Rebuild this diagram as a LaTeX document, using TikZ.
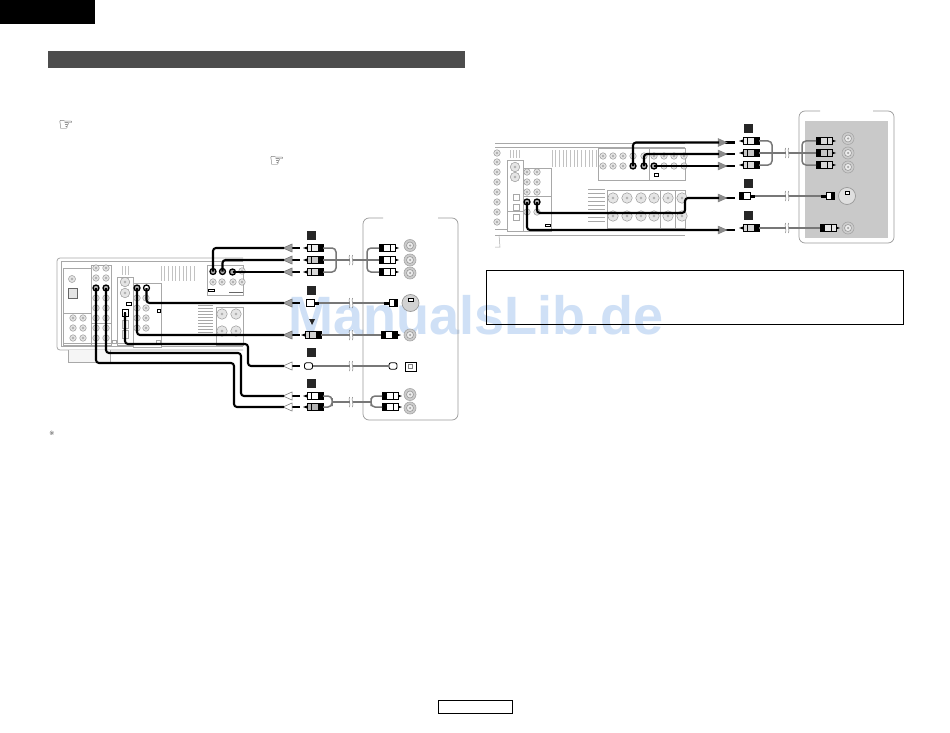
\documentclass[tikz,border=0pt]{standalone}
\usepackage{fontspec}
\setmainfont{Liberation Sans}
\newfontfamily\symfont{DejaVu Sans}
\definecolor{wm}{HTML}{CFE0F6}
\definecolor{hdr}{HTML}{4D4D4D}
\definecolor{cablegrey}{HTML}{777777}
\definecolor{devline}{HTML}{A8A8A8}
\definecolor{panelfill}{HTML}{C9C9C9}
\tikzset{
  devbox/.style={draw=devline,line width=.5pt,fill=white},
  devedge/.style={draw=devline,line width=.8pt},
  vent/.style={draw=devline!70,line width=1pt},
  ljackstyle/.style={circle,draw=gray!80,fill=gray!20,line width=.5pt,inner sep=0pt},
  ljackin/.style={circle,draw=gray!70,fill=white,line width=.4pt,inner sep=0pt,minimum size=2pt},
  bjack/.style={circle,draw=black,fill=gray!65,line width=1.3pt,inner sep=0pt,minimum size=6pt},
  cable/.style={draw=black,line width=2.1pt,rounded corners=3pt},
  gcable/.style={draw=cablegrey,line width=1.5pt,rounded corners=4pt},
  tag/.style={fill=black!85,inner sep=0pt,minimum size=9pt},
  hand/.style={font=\symfont\fontsize{17}{17}\selectfont,text=black!85,inner sep=0pt},
  frame/.style={draw=gray!80,line width=.7pt,rounded corners=6pt},
  small/.style={draw=black,fill=white,line width=.7pt},
}
% light jack
\newcommand\ljack[3]{%
  \node[ljackstyle,minimum size=#3pt] at (#1,#2) {};
  \node[ljackin] at (#1,#2) {};}
% grey RCA socket with name
\newcommand\sock[3]{%
  \node[circle,draw=gray!70,fill=gray!40,line width=.6pt,inner sep=0pt,minimum size=12pt] (#1) at (#2,#3) {};
  \node[circle,draw=gray!80,fill=gray!15,line width=.6pt,inner sep=0pt,minimum size=7pt] at (#2,#3) {};
  \node[circle,fill=gray!70,inner sep=0pt,minimum size=2.5pt] at (#2,#3) {};}
% RCA plug: name,x,y,dir(1 = tip to left),fill
\newcommand\plug[5]{%
  \begin{scope}[shift={(#2,#3)},xscale=#4]
    \fill[black] (-12,0) -- (-8,-1.5) -- (-8,1.5) -- cycle;
    \draw[black,line width=.8pt,fill=#5] (-8,-3.2) rectangle (8,3.2);
    \fill[black] (3,-3.2) rectangle (8,3.2);
    \fill[black] (-4,-3.2) rectangle (-3,3.2);
    \coordinate (#1) at (8,0);
  \end{scope}}
% S-video plug
\newcommand\splug[5]{%
  \begin{scope}[shift={(#2,#3)},xscale=#4]
    \fill[black] (-9,-1.5) rectangle (-4,1.5);
    \draw[black,line width=.8pt,fill=#5] (-4,-3.6) rectangle (4,3.6);
    \coordinate (#1) at (-9,0);
  \end{scope}}
% optical plug
\newcommand\oplug[3]{%
  \draw[black,line width=.8pt,fill=white,rounded corners=2pt] (#2-4,#3-3.2) rectangle (#2+4,#3+3.2);
  \node[inner sep=0pt,minimum size=8pt] (#1) at (#2,#3) {};}
% arrow pointing left towards the device: name, y, fill
\newcommand\arrL[3]{%
  \draw[black,line width=2.1pt] (292,#2) -- (300,#2);
  \draw[black!60,line width=.5pt,fill=#3] (283,#2) -- (292,#2-4) -- (292,#2+4) -- cycle;
  \coordinate (#1) at (284,#2);}
% arrow pointing right towards the device: name, y
\newcommand\arrR[2]{%
  \draw[black,line width=2.1pt] (725,#2) -- (735,#2);
  \draw[gray,line width=.4pt,fill=gray!90] (727,#2) -- (718,#2-4) -- (718,#2+4) -- cycle;
  \coordinate (#1) at (719,#2);}
% cable break mark
\newcommand\cutmark[2]{%
  \fill[white] (#1-1.5,#2-4) rectangle (#1+1.5,#2+4);
  \draw[cablegrey,line width=.5pt] (#1-1.5,#2-5) .. controls (#1-3,#2-2) and (#1,#2+2) .. (#1-1.5,#2+5);
  \draw[cablegrey,line width=.5pt] (#1+1.5,#2-5) .. controls (#1,#2-2) and (#1+3,#2+2) .. (#1+1.5,#2+5);}
\begin{document}
\begin{tikzpicture}[x=1pt,y=-1pt]
\useasboundingbox (0,0) rectangle (950,733);
\fill[white] (0,0) rectangle (950,733);
% watermark
\node[font=\bfseries\fontsize{54}{54}\selectfont,text=wm,inner sep=0pt] (wmark) at (476,315) {ManualsLib.de};
% page furniture
\fill[black] (0,0) rectangle (95,24);
\fill[hdr] (48,51) rectangle (465,68);
\node[hand] (h1) at (66,126) {☞};
\node[hand] (h2) at (277,162) {☞};
\node[font=\symfont\fontsize{6}{6}\selectfont,text=black!70,inner sep=0pt] (note) at (52,433) {※};
\draw[black,line width=.8pt] (486,270) rectangle (903.5,324);
\draw[black,line width=.8pt] (438,700.5) rectangle (512.5,713);

%%%%%%%% LEFT DIAGRAM: DEVICE
\draw[devedge,rounded corners=3pt] (243,258) -- (57,258) -- (57,350) -- (243,350);
\draw[devline,line width=.4pt] (243,261) -- (61,261) -- (61,346) -- (243,346);
\draw[devline,line width=.7pt,fill=gray!8] (68,350) -- (68,362) -- (110,362) -- (110,350);
\draw[devbox] (63,268) rectangle (92,345);
\draw[devline,line width=.4pt] (63,313) -- (92,313);
\draw[devbox] (91,265) rectangle (111,345);
\draw[devbox] (117,277) rectangle (133,345);
\draw[devbox] (133,283) rectangle (161,347);
\draw[devbox] (207,265) rectangle (243,295);
\draw[devbox] (216,307) rectangle (243,345);
\draw[devline,line width=.4pt] (91,323) -- (111,323) (63,343) -- (161,343);
\foreach \x in {161,164.7,...,197} {\draw[vent] (\x,266) -- (\x,281);}
\foreach \x in {122,125,128} {\draw[vent] (\x,266) -- (\x,275);}
\foreach \y in {305,308,...,335} {\draw[devline,line width=.5pt] (198,\y) -- (213,\y);}
\ljack{72}{279}{7}
\draw[black!60,line width=.8pt,fill=gray!20] (68,288) rectangle (77,298);
\foreach \x in {73,83} \foreach \y in {318,328,338} {\ljack{\x}{\y}{6.5}}
\foreach \x in {96,106} \foreach \y in {268,278,298,308,318,328,338} {\ljack{\x}{\y}{6.5}}
\ljack{125}{282}{9.5}\ljack{125}{293}{9.5}
\draw[devline,line width=.5pt] (122,320) rectangle (128,328) (122,330) rectangle (128,338);
\foreach \x in {137,146} \foreach \y in {298,308,318,328} {\ljack{\x}{\y}{6.5}}
\foreach \x in {213,222,233} {\ljack{\x}{282}{6.5}}
\ljack{242}{271}{6.5}\ljack{242}{282}{6.5}
\foreach \x in {222,236} \foreach \y in {314,331} {\ljack{\x}{\y}{10.5}}
\draw[small] (126.5,302.5) rectangle (131,305.5);
\draw[small] (157.5,309) rectangle (160,312);
\draw[small] (208.5,289.5) rectangle (214,291.5);
\draw[devline,line width=.5pt] (112,340) rectangle (116,343) (156,340) rectangle (160,343);
\draw[black!60,line width=1pt] (229,292) -- (243,292);
% device jacks in use
\node[bjack] (Ra) at (213,271.5) {};
\node[bjack] (Rb) at (222.5,271.5) {};
\node[bjack] (Rc) at (232.5,272) {};
\node[bjack,fill=white] (Rd) at (146.5,288) {};
\node[bjack] (Re) at (137,288) {};
\draw[black,line width=1pt,fill=white] (122,309) rectangle (128,316);
\node[inner sep=0pt,minimum size=2pt,fill=black] (Rf) at (125,313) {};
\node[bjack] (Rg) at (106,288) {};
\node[bjack] (Rh) at (96,288) {};

%%%%%%%% LEFT DIAGRAM: SOURCE FRAME
\draw[frame] (383,218) -- (363,218) -- (363,420) -- (458,420) -- (458,218) -- (438,218);
\node[tag] (t1) at (311.5,235.5) {};
\node[tag] (t2) at (311.5,290.5) {};
\node[tag] (t3) at (311.5,352.5) {};
\node[tag] (t4) at (311.5,383.5) {};
\fill[black!85] (309,319) -- (315,319) -- (312,325) -- cycle;

\arrL{Aa}{248}{gray!75}
\arrL{Ab}{260}{gray!75}
\arrL{Ac}{272}{gray!75}
\arrL{Ad}{303}{gray!75}
\arrL{Ae}{335}{gray!75}
\arrL{Af}{366}{white}
\arrL{Ag}{396}{white}
\arrL{Ah}{407}{white}

% black cables
\draw[cable] (Ra.center) |- (Aa);
\draw[cable] (Rb.center) |- (Ab);
\draw[cable] (Rc.center) -- (Ac);
\draw[cable] (Rd.center) |- (Ad);
\draw[cable] (Re.center) |- (Ae);
\coordinate (Ff) at (248,344);
\draw[cable] (Rf.center) |- (Ff) |- (Af);
\coordinate (Fg) at (241,353);
\draw[cable] (Rg.center) |- (Fg) |- (Ag);
\coordinate (Fh) at (234,363);
\draw[cable] (Rh.center) |- (Fh) |- (Ah);

% grey cables
\plug{Pa}{315}{248}{1}{gray!15}
\plug{Pb}{315}{260}{1}{gray!45}
\plug{Pc}{315}{272}{1}{gray!30}
\plug{Qa}{387}{248}{-1}{white}
\plug{Qb}{387}{260}{-1}{white}
\plug{Qc}{387}{272}{-1}{white}
\coordinate (Ba) at (336,260);
\coordinate (Bb) at (367,260);
\draw[gcable] (Pa) -| (Ba) |- (Pc);
\draw[gcable] (Pb) -- (Qb);
\draw[gcable] (Qa) -| (Bb) |- (Qc);
\cutmark{351}{260}
\sock{Sa}{410}{245.5}\sock{Sb}{410}{260}\sock{Sc}{410}{273}

% S-video
\splug{Pd}{310}{303}{-1}{white}
\splug{Qd}{393}{303}{1}{white}
\fill[black] (394,299.4) rectangle (398,306.6);
\draw[gcable] (Pd) -- (Qd);
\cutmark{351}{303}
\node[circle,draw=gray!80,fill=gray!35,line width=.7pt,inner sep=0pt,minimum size=17pt] (Sd) at (410.5,303) {};
\draw[black,fill=white,line width=.5pt] (408.5,298) rectangle (413,301);
% composite
\plug{Pe}{313}{335}{1}{gray!35}
\plug{Qe}{389}{335}{-1}{white}
\fill[black] (392,332) rectangle (397,338);
\draw[gcable] (Pe) -- (Qe);
\cutmark{351}{335}
\sock{Se}{410}{335}
% optical
\oplug{Pf}{308.5}{366}
\oplug{Qf}{393}{366}
\draw[gcable] (Pf) -- (Qf);
\cutmark{351}{366}
\draw[black,line width=.8pt,fill=white] (405.5,362) rectangle (416,371);
\node[draw=gray,line width=.5pt,inner sep=0pt,minimum size=4pt] (Sf) at (410.7,366.5) {};
% audio
\plug{Pg}{315}{396}{1}{white}
\plug{Ph}{315}{407}{1}{gray!60}
\plug{Qg}{390}{396}{-1}{white}
\plug{Qh}{390}{407}{-1}{white}
\coordinate (Bc) at (332,402);
\coordinate (Bd) at (371,402);
\draw[gcable] (Pg) -| (Bc) |- (Ph);
\draw[gcable] (Bc) -- (Bd);
\draw[gcable] (Qg) -| (Bd) |- (Qh);
\cutmark{351}{402}
\sock{Sg}{410}{394.5}\sock{Sh}{410}{408}

%%%%%%%% RIGHT DIAGRAM: DEVICE
\draw[devedge] (495,143) -- (685,143);
\draw[devline,line width=.4pt] (495,147) -- (685,147);
\draw[devedge] (495,235) -- (685,235);
\draw[devline,line width=.4pt] (495,229) -- (685,229);
\draw[devline,line width=.5pt] (499,235) -- (500,247) -- (495,247);
\draw[devbox] (507,160) rectangle (523,231);
\draw[devbox] (523,168) rectangle (551,231);
\draw[devbox] (598,148) rectangle (685,180);
\draw[devbox] (607,190) rectangle (685,228);
\draw[devline,line width=.4pt] (507,211) -- (523,211) (523,196) -- (551,196) (649,180) -- (649,148) (660,190) -- (660,228) (675,190) -- (675,228);
\foreach \x in {552,555.7,...,597} {\draw[vent] (\x,150) -- (\x,167);}
\foreach \x in {510,513,516,519} {\draw[vent] (\x,150) -- (\x,158);}
\foreach \y in {189,193,...,221} {\draw[devline,line width=.5pt] (588,\y) -- (605,\y);}
\foreach \y in {153,162,172,182,192,202,212,222} {\ljack{497}{\y}{6.5}}
\ljack{515}{167}{9.5}\ljack{515}{177}{9.5}
\foreach \y in {197,207,217} {\draw[devline,line width=.5pt] (513,\y-3) rectangle (519,\y+3);}
\foreach \x in {527,537} \foreach \y in {172,182,192,212} {\ljack{\x}{\y}{6.5}}
\foreach \x in {603,613,623,633,644,654,664,674,684} {\ljack{\x}{156}{6.5}}
\foreach \x in {603,613,623,664,674,684} {\ljack{\x}{166}{6.5}}
\foreach \x in {613,627,641,654,668,682} \foreach \y in {198,216} {\ljack{\x}{\y}{10.5}}
\draw[small] (654.5,173.5) rectangle (658.5,176.5);
\draw[small] (545,224.5) rectangle (550,226.5);
\node[bjack] (Ma) at (633,166) {};
\node[bjack] (Mb) at (644,166) {};
\node[bjack] (Mc) at (654,166) {};
\node[bjack] (Md) at (537,202) {};
\node[bjack] (Me) at (527,202) {};

%%%%%%%% RIGHT DIAGRAM: SOURCE FRAME
\fill[panelfill] (805,121) rectangle (888,238);
\draw[frame] (820,111) -- (799,111) -- (799,243) -- (894,243) -- (894,111) -- (873,111);
\node[tag] (u1) at (748,128.5) {};
\node[tag] (u2) at (748,183.5) {};
\node[tag] (u3) at (748,215.5) {};

\arrR{Ba1}{142.5}
\arrR{Bb1}{154}
\arrR{Bc1}{166}
\arrR{Bd1}{198}
\arrR{Be1}{230}

\draw[cable] (Ma.center) |- (Ba1);
\draw[cable] (Mb.center) |- (Bb1);
\draw[cable] (Mc.center) -- (Bc1);
\coordinate (Fd) at (685,213);
\draw[cable] (Md.center) |- (Fd) |- (Bd1);
\draw[cable] (Me.center) |- (Be1);

\plug{Ta}{751}{141}{1}{gray!15}
\plug{Tb}{751}{153}{1}{gray!45}
\plug{Tc}{751}{165}{1}{gray!30}
\plug{Va}{824}{141}{-1}{gray!30}
\plug{Vb}{824}{153}{-1}{gray!45}
\plug{Vc}{824}{165}{-1}{gray!30}
\coordinate (Ca) at (772,153);
\coordinate (Cb) at (802,153);
\draw[gcable] (Ta) -| (Ca) |- (Tc);
\draw[gcable] (Tb) -- (Vb);
\draw[gcable] (Va) -| (Cb) |- (Vc);
\cutmark{787}{153}
\sock{Xa}{848}{138.5}\sock{Xb}{848}{153}\sock{Xc}{848}{167}

\splug{Td}{746}{196}{-1}{white}
\fill[black] (739,192.4) rectangle (744,199.6);
\splug{Vd}{830}{196}{1}{white}
\fill[black] (831,192.4) rectangle (835,199.6);
\draw[gcable] (Td) -- (Vd);
\cutmark{787}{196}
\node[circle,draw=gray!80,fill=gray!25,line width=.7pt,inner sep=0pt,minimum size=17pt] (Xd) at (847,196) {};
\draw[black,fill=white,line width=.5pt] (845,191) rectangle (849.5,194);

\plug{Te}{751}{228}{1}{gray!30}
\plug{Ve}{828}{228}{-1}{gray!20}
\draw[gcable] (Te) -- (Ve);
\cutmark{787}{228}
\sock{Xe}{848}{228}
\end{tikzpicture}
\end{document}
